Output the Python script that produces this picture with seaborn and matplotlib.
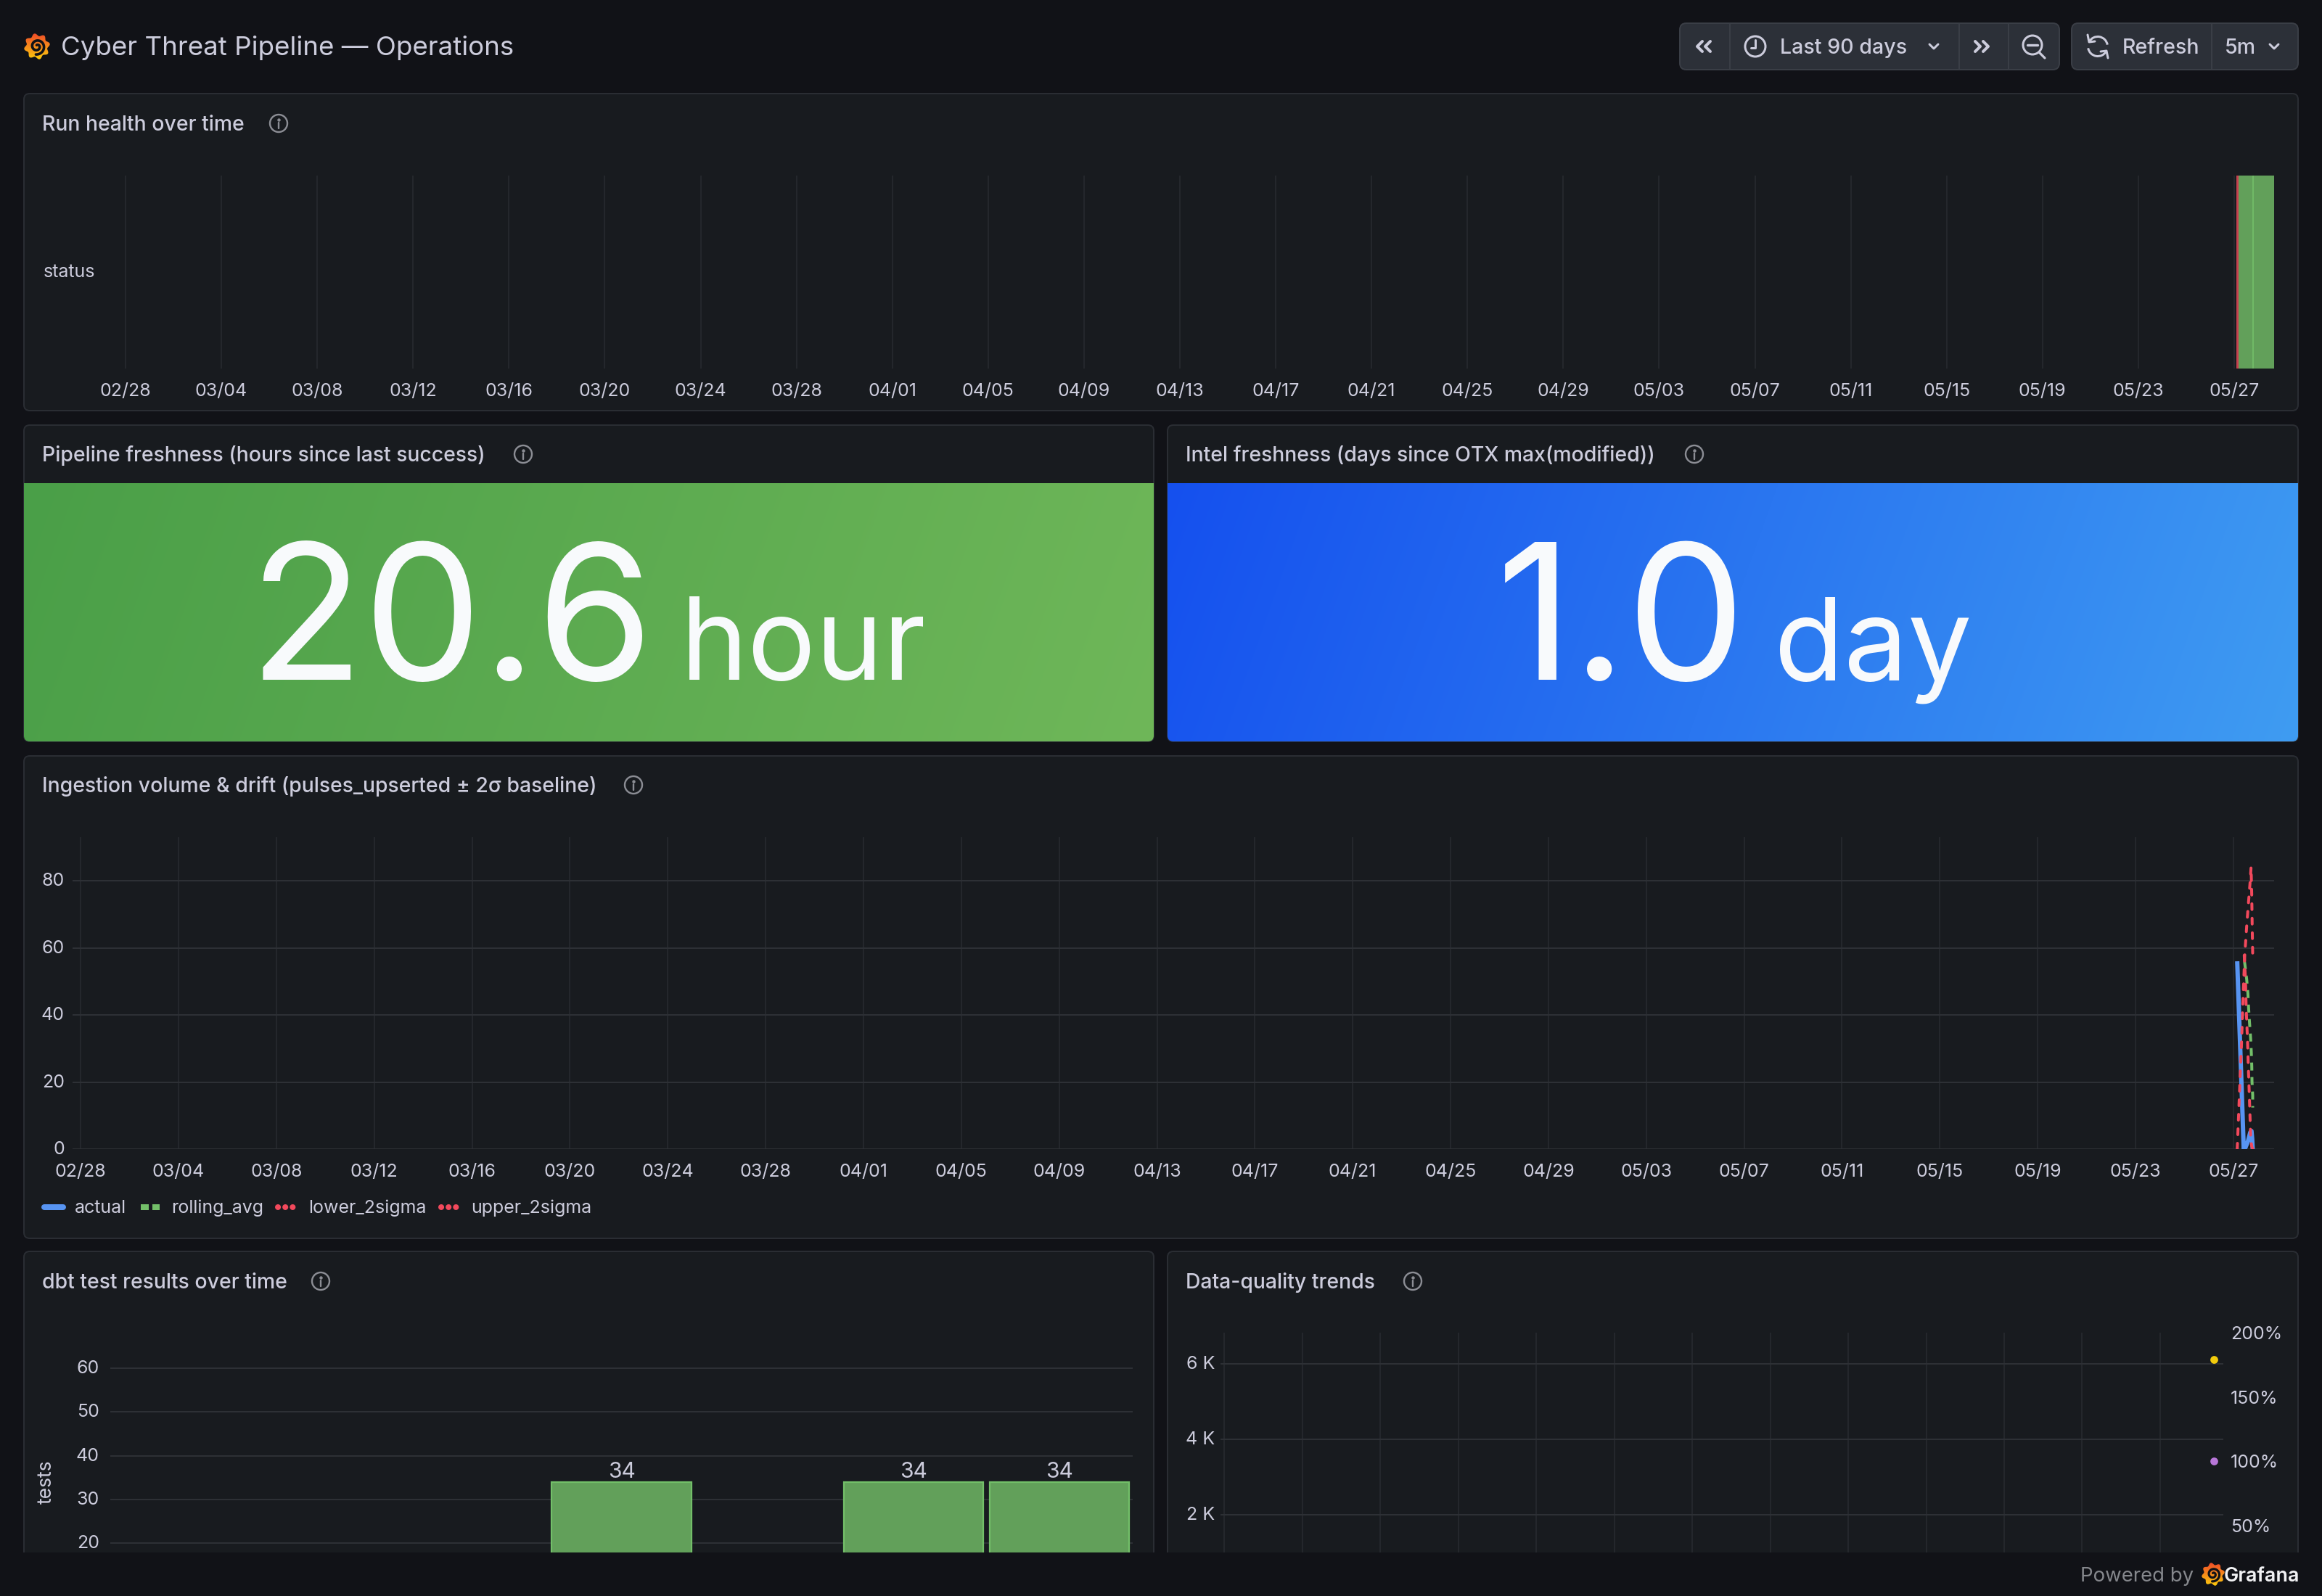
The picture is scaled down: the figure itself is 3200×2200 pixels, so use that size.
import numpy as np
import pandas as pd
import seaborn as sns
import matplotlib
matplotlib.use("Agg")
import matplotlib.pyplot as plt
import matplotlib.dates as mdates
from matplotlib.lines import Line2D
from matplotlib.patches import FancyBboxPatch, Circle, Rectangle, Polygon, Arc
from matplotlib.transforms import ScaledTranslation

# ---------- data ----------
RANGE_START = pd.Timestamp("2026-02-27 16:00")
RANGE_END = pd.Timestamp("2026-05-28 16:00")
LAST_DAY = pd.Timestamp("2026-05-27")
tick_dates = pd.date_range("2026-02-28", periods=23, freq="4D")
weekly_ticks = pd.date_range("2026-02-28", periods=13, freq="7D")

status_start_h = [2.0, 4.1, 18.9]
status_end_h = [4.1, 18.9, 40.0]
status_state = ["failed", "success", "success"]

actual_h = [3.8, 10.2, 11.9, 14.3, 16.6, 17.8, 18.5, 19.0]
actual_v = [56.0, 0.0, 0.5, 2.3, 5.0, 5.4, 3.0, 0.0]
rolling_h = [10.9, 11.4, 13.1, 14.3, 15.0, 15.9, 16.9, 17.6, 18.1, 18.3, 19.0, 19.0]
rolling_v = [56.0, 54.9, 50.6, 46.3, 41.9, 37.6, 33.3, 29.0, 24.6, 20.3, 16.0, 12.4]
lower_h = [10.7, 11.9, 12.6, 13.8, 14.7, 15.7, 16.6, 17.1, 18.0, 19.0]
lower_v = [57.8, 50.6, 41.9, 33.3, 24.6, 16.0, 7.4, 3.0, 0.9, 0.0]
upper_h = [3.8, 5.0, 6.4, 7.9, 9.5, 11.2, 13.1, 14.7, 16.4, 17.4, 18.1, 18.5, 19.0]
upper_v = [0.0, 8.8, 19.6, 30.4, 44.8, 57.8, 66.5, 72.9, 79.4, 84.1, 75.1, 66.5, 57.8]

test_runs = ["r1", "r2", "r3", "r4", "r5", "r6", "r7"]
test_pass = [0, 0, 0, 34, 0, 34, 34]

dq_time_h = [19.0]
dq_count = [6115]
dq_pct = [100]

freshness_hours = 20.6
freshness_days = 1.0

# ---------- theme ----------
BG = "#111217"
PANEL = "#181b1f"
BORDER = "#2a2d33"
TXT = "#ccccdc"
GRID_H = "#2e3136"
GRID_V = "#272a2f"
sns.set_theme(style="dark", rc={"lines.scale_dashes": False})
plt.rcParams["font.family"] = ["Inter", "DejaVu Sans"]
W, H = 3200, 2200
fig = plt.figure(figsize=(W / 100, H / 100), dpi=100, facecolor=BG)
PT = 0.72
TICK = 25 * PT

chrome = fig.add_axes([0, 0, 1, 1], zorder=0)
chrome.set_xlim(0, W)
chrome.set_ylim(H, 0)
chrome.axis("off")
chrome.set_autoscale_on(False)


def px_axes(x0, y0, x1, y1, z=3):
    ax = fig.add_axes([x0 / W, 1 - y1 / H, (x1 - x0) / W, (y1 - y0) / H], zorder=z)
    ax.patch.set_alpha(0)
    for s in ax.spines.values():
        s.set_visible(False)
    return ax


def lift_yticks(ax, px=2):
    for lab in ax.get_yticklabels():
        lab.set_transform(lab.get_transform() + ScaledTranslation(0, px / 100, fig.dpi_scale_trans))


def panel(x0, y0, x1, y1):
    chrome.add_patch(FancyBboxPatch((x0, y0), x1 - x0, y1 - y0,
                                    boxstyle="round,pad=0,rounding_size=8",
                                    fc=PANEL, ec=BORDER, lw=2 * PT, zorder=1))


def info(cx, cy):
    chrome.add_patch(Circle((cx, cy), 12, fc="none", ec="#8b8d94", lw=2.4 * PT, zorder=5))
    chrome.plot([cx, cx], [cy - 1, cy + 6.5], color="#8b8d94", lw=2.4 * PT, zorder=5)
    chrome.plot([cx], [cy - 5.5], "o", color="#8b8d94", ms=2.2, zorder=5)


def title(x, y, s):
    chrome.text(x, y + 2, s, color=TXT, fontsize=28.4 * PT, va="center", ha="left", zorder=5, fontweight=500)


def time_axis(ax, ticks=tick_dates, labels=True):
    ax.set_xlim(RANGE_START, RANGE_END)
    ax.set_xticks(ticks)
    ax.xaxis.set_major_formatter(mdates.DateFormatter("%m/%d"))
    ax.set_xlabel("")
    ax.set_ylabel("")


def tstamp(hours):
    return LAST_DAY + pd.to_timedelta(hours, unit="h")


# ---------- panels ----------
panel(33, 129, 3167, 566)
panel(33, 586, 1590, 1022)
panel(1609, 586, 3167, 1022)
panel(33, 1042, 3167, 1707)
panel(33, 1725, 1590, 2300)
panel(1609, 1725, 3167, 2300)

title(58, 170, "Run health over time")
info(384, 170)
title(58, 626, "Pipeline freshness (hours since last success)")
info(721, 626)
title(1634, 626, "Intel freshness (days since OTX max(modified))")
info(2335, 626)
title(58, 1082, "Ingestion volume & drift (pulses_upserted ± 2σ baseline)")
info(873, 1082)
title(58, 1766, "dbt test results over time")
info(442, 1766)
title(1634, 1766, "Data-quality trends")
info(1947, 1766)


# stat panels
def stat(x0, x1, c0, c1, value, unit, vx, ux):
    y0, y1 = 666, 1022
    nx, ny = 300, 60
    xx, yy = np.meshgrid(np.linspace(0, 1, nx), np.linspace(0, 1, ny))
    t = (xx + 0.08 * yy) / 1.08
    c0, c1 = np.array(matplotlib.colors.to_rgb(c0)), np.array(matplotlib.colors.to_rgb(c1))
    img = c0[None, None, :] * (1 - t[..., None]) + c1[None, None, :] * t[..., None]
    im = chrome.imshow(img, extent=(x0, x1, y1, y0), aspect="auto", zorder=2, interpolation="bilinear")
    clip = FancyBboxPatch((x0, y0 - 20), x1 - x0, y1 - y0 + 20, boxstyle="round,pad=0,rounding_size=8",
                          fc="none", ec="none", transform=chrome.transData)
    chrome.add_patch(clip)
    im.set_clip_path(clip)
    chrome.text(vx, 937, value, color="#f8fafc", fontsize=260 * PT, va="baseline", ha="left", zorder=5)
    chrome.text(ux, 937, unit, color="#f8fafc", fontsize=157 * PT, va="baseline", ha="left", zorder=5)


stat(33, 1590, "#4a9f48", "#6fb759", f"{freshness_hours:.1f}", "hour", 342, 938)
stat(1609, 3167, "#1550ee", "#3f9cf2", f"{freshness_days:.1f}", "day", 2062, 2445)
chrome.set_xlim(0, W)
chrome.set_ylim(H, 0)

# ---- run health ----
ax1 = px_axes(162, 242, 3134, 508)
status_colors = {"failed": "#c6404f", "success": "#62a05a"}
for s, e, st in zip(status_start_h, status_end_h, status_state):
    left = mdates.date2num(tstamp(s))
    ax1.barh([0], [mdates.date2num(tstamp(e)) - left], left=left, height=1.0,
             color=status_colors[st], lw=0, zorder=3)
ax1.vlines([mdates.date2num(tstamp(status_start_h[2]))], -0.5, 0.5, color="#73bf69", lw=1.2, zorder=4)
ax1.set_ylim(-0.5, 0.5)
time_axis(ax1)
ax1.set_yticks([0], ["status"])
ax1.grid(True, axis="x", color=GRID_V, lw=1.2, zorder=0)
ax1.set_axisbelow(True)
ax1.tick_params(axis="x", length=8 * PT, color=GRID_V, width=1.2, labelsize=TICK, labelcolor=TXT, pad=12 * PT)
ax1.tick_params(axis="y", length=0, labelsize=TICK, labelcolor=TXT, pad=31 * PT)
lift_yticks(ax1)

# ---- ingestion ----
ax3 = px_axes(100, 1154, 3134, 1584)
C_BLUE, C_GREEN, C_RED = "#5794F2", "#73BF69", "#F2495C"
sns.lineplot(x=tstamp(actual_h), y=actual_v, ax=ax3, color=C_BLUE, lw=6 * PT, estimator=None, sort=False,
             solid_capstyle="butt", solid_joinstyle="round", zorder=3)
sns.lineplot(x=tstamp(rolling_h), y=rolling_v, ax=ax3, color=C_GREEN, lw=4 * PT, estimator=None, sort=False,
             linestyle=(0, (11 * PT, 9 * PT)), dash_capstyle="butt", zorder=4)
sns.lineplot(x=tstamp(lower_h), y=lower_v, ax=ax3, color=C_RED, lw=4 * PT, estimator=None, sort=False,
             linestyle=(0, (8 * PT, 12 * PT)), dash_capstyle="round", zorder=5)
sns.lineplot(x=tstamp(upper_h), y=upper_v, ax=ax3, color=C_RED, lw=4 * PT, estimator=None, sort=False,
             linestyle=(0, (8 * PT, 12 * PT)), dash_capstyle="round", zorder=6)
ax3.set_ylim(0, 93)
time_axis(ax3)
ax3.set_yticks([0, 20, 40, 60, 80])
ax3.grid(True, axis="x", color=GRID_V, lw=1.2, zorder=0)
ax3.grid(True, axis="y", color=GRID_H, lw=1.4, zorder=0)
ax3.set_axisbelow(True)
ax3.tick_params(axis="x", length=8 * PT, color=GRID_V, width=1.2, labelsize=TICK, labelcolor=TXT, pad=12 * PT)
ax3.tick_params(axis="y", length=0, labelsize=TICK, labelcolor=TXT, pad=11 * PT)
lift_yticks(ax3)
handles = [
    Line2D([], [], color=C_BLUE, lw=8 * PT, solid_capstyle="round"),
    Line2D([], [], color=C_GREEN, lw=8 * PT, linestyle=(0, (11 * PT, 5 * PT)), dash_capstyle="butt"),
    Line2D([], [], color=C_RED, lw=8 * PT, linestyle=(0, (0.1, 10 * PT)), dash_capstyle="round"),
    Line2D([], [], color=C_RED, lw=8 * PT, linestyle=(0, (0.1, 10 * PT)), dash_capstyle="round"),
]
ax3.legend(handles, ["actual", "rolling_avg", "lower_2sigma", "upper_2sigma"], loc="center left",
           bbox_to_anchor=(61, 1665), bbox_transform=chrome.transData, ncol=4, frameon=False,
           fontsize=TICK, labelcolor=TXT, handlelength=26 / 25, handleheight=0.5, handletextpad=16 / 25,
           columnspacing=20 / 25, borderpad=0, borderaxespad=0)

# ---- dbt tests ----
ax4 = px_axes(152, 1830, 1561, 2140)
sns.barplot(x=test_runs, y=test_pass, ax=ax4, color="#62a05a", saturation=1, width=0.955,
            edgecolor="#73bf69", linewidth=1.6, zorder=3)
ax4.set_xlim(-0.5, 6.5)
ax4.set_ylim(20 - 13 / 6.02, 60 + 56 / 6.02)
ax4.set_yticks([20, 30, 40, 50, 60])
ax4.set_xticks([])
ax4.grid(True, axis="y", color=GRID_H, lw=1.4, zorder=0)
ax4.set_axisbelow(True)
ax4.tick_params(axis="y", length=0, labelsize=TICK, labelcolor=TXT, pad=15 * PT)
lift_yticks(ax4)
ax4.set_xlabel("")
ax4.set_ylabel("tests", color=TXT, fontsize=26.5 * PT)
ax4.yaxis.set_label_coords((77 - 152) / 1409, (2140 - 2043) / 310)
ax4.bar_label(ax4.containers[0], labels=[f"{v:.0f}" if v > 0 else "" for v in test_pass],
              color=TXT, fontsize=30 * PT, padding=0)

# ---- data quality ----
ax5 = px_axes(1682, 1837, 3064, 2140)
dq_x = tstamp(dq_time_h)
sns.scatterplot(x=dq_x, y=dq_count, ax=ax5, color="#F2CC0C", s=60, linewidth=0, zorder=5)
ax5.set_ylim(2000 - 52 / 0.052, 6000 + 43 / 0.052)
time_axis(ax5, weekly_ticks)
ax5.set_yticks([2000, 4000, 6000], ["2 K", "4 K", "6 K"])
ax5.grid(True, axis="x", color=GRID_V, lw=1.2, zorder=0)
ax5.grid(True, axis="y", color=GRID_H, lw=1.4, zorder=0)
ax5.set_axisbelow(True)
ax5.tick_params(axis="x", length=0, labelbottom=False)
ax5.tick_params(axis="y", length=0, labelsize=TICK, labelcolor=TXT, pad=8 * PT)
lift_yticks(ax5)
ax5r = ax5.twinx()
ax5r.patch.set_alpha(0)
for s in ax5r.spines.values():
    s.set_visible(False)
sns.scatterplot(x=dq_x, y=dq_pct, ax=ax5r, color="#B877D9", s=60, linewidth=0, zorder=5)
ax5r.set_ylim(50 - 37 / 1.773, 200)
ax5r.set_yticks([50, 100, 150, 200], ["50%", "100%", "150%", "200%"])
ax5r.grid(False)
ax5r.set_ylabel("")
ax5r.tick_params(axis="y", length=0, labelsize=TICK, labelcolor=TXT, pad=10 * PT)

# ---------- footer cover ----------
chrome.add_patch(Rectangle((0, 2140), W, 60, fc=BG, ec="none", zorder=8))
chrome.text(3023, 2173, "Powered by", color="#85878c", fontsize=27.6 * PT, ha="right", va="center", zorder=9)
chrome.text(3169, 2173, "Grafana", color="#f2f2f4", fontsize=27 * PT, ha="right", va="center", zorder=9, fontweight=600)


# ---------- logo ----------
def logo(cx, cy, r, z=9):
    th = np.linspace(0, 2 * np.pi, 361)
    rad = r * (0.9 + 0.1 * np.cos(8 * (th + 0.2)))
    px, py = cx + rad * np.sin(th), cy - rad * np.cos(th)
    grad = np.linspace(0, 1, 64)[:, None]
    c0, c1 = np.array([0.94, 0.30, 0.16]), np.array([0.99, 0.79, 0.05])
    img = (c0[None, :] * (1 - grad) + c1[None, :] * grad)[:, None, :]
    im = chrome.imshow(img, extent=(cx - r, cx + r, cy + r, cy - r), aspect="auto", zorder=z)
    clip = Polygon(np.c_[px, py], closed=True, fc="none", ec="none", transform=chrome.transData)
    chrome.add_patch(clip)
    im.set_clip_path(clip)
    t = np.linspace(0.8, 3.4 * np.pi, 120)
    sr = r * (0.06 + 0.56 * t / t.max())
    chrome.plot(cx + sr * np.cos(t + 3.6), cy + sr * np.sin(t + 3.6), color=BG, lw=r * 0.2 * PT, zorder=z + 1,
                solid_capstyle="round")


logo(51, 64, 18)
logo(3050, 2170, 16)
chrome.set_xlim(0, W)
chrome.set_ylim(H, 0)

chrome.text(84, 66, "Cyber Threat Pipeline — Operations", color=TXT, fontsize=36.7 * PT, va="center", ha="left",
            zorder=5)

# ---------- toolbar ----------
BTN = "#2c3038"
BTN_E = "#3a3e46"


def group(x0, x1, seps):
    chrome.add_patch(FancyBboxPatch((x0, 32), x1 - x0, 64, boxstyle="round,pad=0,rounding_size=9",
                                    fc=BTN, ec=BTN_E, lw=2 * PT, zorder=3))
    for s in seps:
        chrome.plot([s, s], [33, 95], color=BTN_E, lw=2 * PT, zorder=4)


group(2315, 2838, [2383.5, 2699.5, 2768])
group(2855, 3167, [3048])
for txt, x in [("Last 90 days", 2453), ("Refresh", 2925), ("5m", 3066)]:
    chrome.text(x, 66, txt, color=TXT, fontsize=28.6 * PT, va="center", ha="left", zorder=5, fontweight=500)


def pl(xs, ys, lw=3.4):
    chrome.plot(xs, ys, color=TXT, lw=lw * PT, zorder=5, solid_capstyle="round", solid_joinstyle="round")


# double chevrons
for dx in (0, 11):
    pl([2346 + dx, 2339 + dx, 2346 + dx], [57, 64, 71], 4)
for dx in (-10, 1):
    pl([2732 + dx, 2739 + dx, 2732 + dx], [57, 64, 71], 4)
# small chevrons
for cx in (2665, 3134):
    pl([cx - 6, cx, cx + 6], [61, 67, 61], 3)
# clock
chrome.add_patch(Circle((2419, 64), 14, fc="none", ec=TXT, lw=3 * PT, zorder=5))
pl([2419, 2419, 2413], [55, 66, 66], 3)
# zoom out
chrome.add_patch(Circle((2801, 62), 13, fc="none", ec=TXT, lw=3 * PT, zorder=5))
pl([2794, 2808], [62, 62], 3.4)
pl([2810, 2818], [72, 80], 3.2)
# refresh
chrome.add_patch(Arc((2891, 64), 27, 27, theta1=210, theta2=350, ec=TXT, lw=3 * PT, zorder=5))
chrome.add_patch(Arc((2891, 64), 27, 27, theta1=30, theta2=170, ec=TXT, lw=3 * PT, zorder=5))
pl([2877, 2879, 2887], [48, 58, 57], 3)
pl([2905, 2903, 2895], [80, 70, 71], 3)

fig.savefig("out.png", dpi=100, facecolor=BG)
